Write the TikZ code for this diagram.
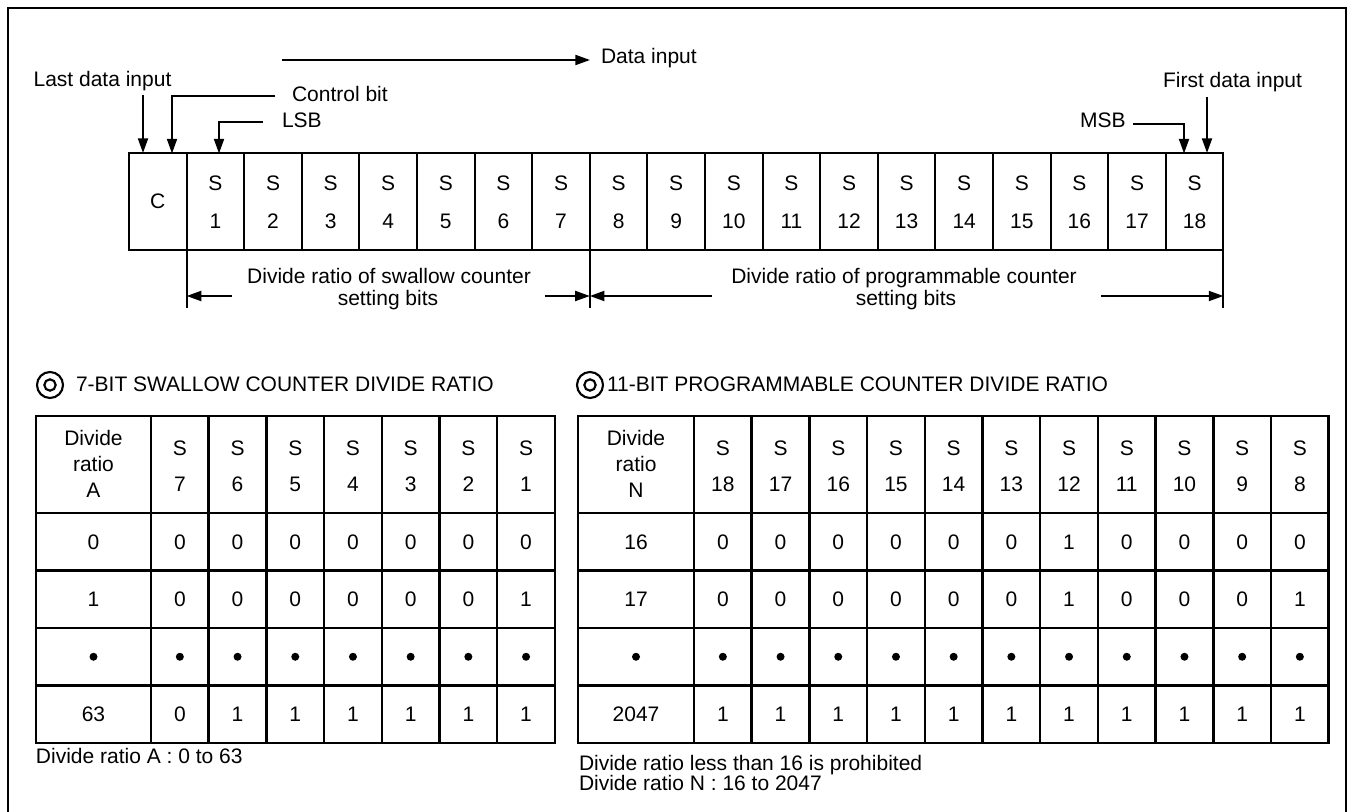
\documentclass[tikz,border=0pt]{standalone}
\usepackage{fontspec}
\setmainfont{Liberation Sans}
\usetikzlibrary{arrows.meta,calc}
\begin{document}
\begin{tikzpicture}[x=0.75pt,y=-0.75pt,
  every node/.style={font=\fontsize{15.75}{18}\selectfont, inner sep=0pt, outer sep=0pt},
  txt/.style={anchor=base},
  txtw/.style={anchor=base west},
  regcell/.style={draw, line width=1.5pt, minimum width=43.2pt, minimum height=72.75pt},
  ln/.style={line width=1.5pt},
  arr/.style={line width=1.5pt, -{Triangle[length=11pt,width=7.5pt]}},
  tab/.style={line width=1.9pt},
  dotc/.style={circle, fill=black, minimum size=6pt},
  ring/.style={circle, draw, line width=1.6pt}
]
\useasboundingbox (0,0) rectangle (1351,812);
% outer frame (bottom edge cut off)
\draw[line width=2pt] (8,830) -- (8,8) -- (1346,8) -- (1346,830);

% ---------- register ----------
\foreach \i in {0,...,18} {
  \node[regcell] (rc\i) at ({129+57.6*(\i+0.5)},201.5) {};
}
\node[txt] (tC) at (157.8,209) {C};
\foreach \i in {1,...,18} {
  \pgfmathsetmacro\xx{129+57.6*(\i+0.5)}
  \node[txt] (tS\i) at (\xx,190.5) {S};
  \node[txt] (tN\i) at (\xx,228.5) {\i};
}

% ---------- top labels ----------
\node[txt] (lastlbl) at (102.5,86.5) {Last data input};
\node[txtw] (ctrllbl) at (292,101.5) {Control bit};
\node[txtw] (lsblbl) at (282,128) {LSB};
\node[txtw] (datalbl) at (601,63.5) {Data input};
\node[txt] (firstlbl) at (1232.5,88) {First data input};
\node[txtw] (msblbl) at (1080,128) {MSB};

\coordinate (dataS) at (282,60);
\coordinate (dataE) at (590,60);
\draw[arr] (dataS) -- (dataE);
\coordinate (lastS) at (143,95);
\draw[arr] (lastS) -- (lastS |- rc0.north);
\coordinate (ctrlS) at (275,96);
\coordinate (ctrlE) at (172,153.5);
\draw[arr] (ctrlS) -| (ctrlE);
\coordinate (lsbS) at (263,122);
\coordinate (lsbE) at (219,153.5);
\draw[arr] (lsbS) -| (lsbE);
\coordinate (msbS) at (1133,124);
\coordinate (msbE) at (1184,153.5);
\draw[arr] (msbS) -| (msbE);
\coordinate (firstS) at (1207,97);
\draw[arr] (firstS) -- (firstS |- rc18.north);

% ---------- range arrows ----------
\draw[ln] (rc1.south west) -- ++(0,58);
\draw[ln] (rc8.south west) -- ++(0,58);
\draw[ln] (rc18.south east) -- ++(0,58);
\draw[arr] ($(rc1.south west)+(45,46)$) -- ($(rc1.south west)+(0,46)$);
\draw[arr] ($(rc8.south west)+(-45,46)$) -- ($(rc8.south west)+(0,46)$);
\draw[arr] ($(rc8.south west)+(122,46)$) -- ($(rc8.south west)+(0,46)$);
\draw[arr] ($(rc18.south east)+(-122,46)$) -- ($(rc18.south east)+(0,46)$);
\node[txt] (sw1) at (389,284) {Divide ratio of swallow counter};
\node[txt] (sw2) at (388,306) {setting bits};
\node[txt] (pg1) at (904,284) {Divide ratio of programmable counter};
\node[txt] (pg2) at (906,306) {setting bits};

% ---------- titles ----------
\node[ring, minimum size=19.5pt] (lring) at (50,385) {};
\node[ring, minimum size=8.5pt] (lringi) at (50,385) {};
\node[txtw] (ltitle) at (76,392) {7-BIT SWALLOW COUNTER DIVIDE RATIO};
\node[ring, minimum size=19.5pt] (rring) at (590,385) {};
\node[ring, minimum size=8.5pt] (rringi) at (590,385) {};
\node[txtw] (rtitle) at (607,392) {11-BIT PROGRAMMABLE COUNTER DIVIDE RATIO};

% ---------- left table ----------
\draw[tab] (36,416) rectangle (554.9,743);
\foreach \y in {513,570.5,628,685.5} { \draw[tab] (36,\y) -- (554.9,\y); }
\foreach \k in {0,...,6} { \draw[tab] ({151+57.7*\k},416) -- ({151+57.7*\k},743); }
\node[txt] (lh1) at (93.5,445) {Divide};
\node[txt] (lh2) at (93.5,471) {ratio};
\node[txt] (lh3) at (93.5,497) {A};
\foreach \n [count=\k] in {7,6,5,4,3,2,1} {
  \pgfmathsetmacro\xx{151+57.7*(\k-0.5)}
  \node[txt] (lhs\k) at (\xx,455) {S};
  \node[txt] (lhn\k) at (\xx,491) {\n};
}
\foreach \yy/\lab/\bits [count=\j] in {549.25/0/{0,0,0,0,0,0,0}, 606.75/1/{0,0,0,0,0,0,1}, 721.75/63/{0,1,1,1,1,1,1}} {
  \node[txt] (la\j) at (93.5,\yy) {\lab};
  \foreach \b [count=\k] in \bits {
    \pgfmathsetmacro\xx{151+57.7*(\k-0.5)}
    \node[txt] (lb\j-\k) at (\xx,\yy) {\b};
  }
}
\node[dotc] (ld0) at (93.5,656.75) {};
\foreach \k in {1,...,7} {
  \pgfmathsetmacro\xx{151+57.7*(\k-0.5)}
  \node[dotc] (ld\k) at (\xx,656.75) {};
}
\node[txtw] (lcap) at (36,763) {Divide ratio A : 0 to 63};

% ---------- right table ----------
\draw[tab] (578,416) rectangle (1328.7,743);
\foreach \y in {513,570.5,628,685.5} { \draw[tab] (578,\y) -- (1328.7,\y); }
\foreach \k in {0,...,10} { \draw[tab] ({694+57.7*\k},416) -- ({694+57.7*\k},743); }
\node[txt] (rh1) at (636,445) {Divide};
\node[txt] (rh2) at (636,471) {ratio};
\node[txt] (rh3) at (636,497) {N};
\foreach \n [count=\k] in {18,17,16,15,14,13,12,11,10,9,8} {
  \pgfmathsetmacro\xx{694+57.7*(\k-0.5)}
  \node[txt] (rhs\k) at (\xx,455) {S};
  \node[txt] (rhn\k) at (\xx,491) {\n};
}
\foreach \yy/\lab/\bits [count=\j] in {549.25/16/{0,0,0,0,0,0,1,0,0,0,0}, 606.75/17/{0,0,0,0,0,0,1,0,0,0,1}, 721.75/2047/{1,1,1,1,1,1,1,1,1,1,1}} {
  \node[txt] (ra\j) at (636,\yy) {\lab};
  \foreach \b [count=\k] in \bits {
    \pgfmathsetmacro\xx{694+57.7*(\k-0.5)}
    \node[txt] (rb\j-\k) at (\xx,\yy) {\b};
  }
}
\node[dotc] (rd0) at (636,656.75) {};
\foreach \k in {1,...,11} {
  \pgfmathsetmacro\xx{694+57.7*(\k-0.5)}
  \node[dotc] (rd\k) at (\xx,656.75) {};
}
\node[txtw] (rcap1) at (579,770) {Divide ratio less than 16 is prohibited};
\node[txtw] (rcap2) at (579,790) {Divide ratio N : 16 to 2047};
\end{tikzpicture}
\end{document}
